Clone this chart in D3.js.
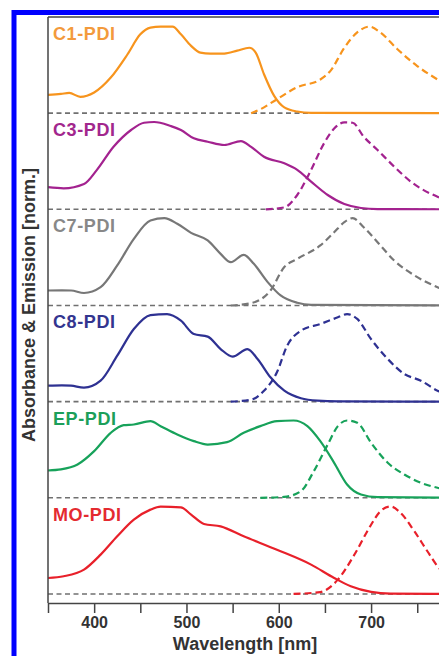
<!DOCTYPE html>
<html>
<head>
<meta charset="utf-8">
<script src="https://d3js.org/d3.v7.min.js"></script>
<style>
	html, body { margin: 0; padding: 0; background: #fff; }
	svg { display: block; font-family: "Liberation Sans", Arial, sans-serif; }
</style>
</head>
<body>
<svg id="chart" width="439" height="656"></svg>
<script>
"use strict";

// samples, top to bottom
var samples = ["C1-PDI", "C3-PDI", "C7-PDI", "C8-PDI", "EP-PDI", "MO-PDI"];

// absorbance spectra [wavelength nm, normalized intensity]
var c1Abs = [[350, 0.19], [364, 0.20], [373, 0.21], [385, 0.17], [400, 0.215], [418, 0.37], [436, 0.61], [450, 0.82],
	[461, 0.89], [472, 0.90], [485, 0.90], [494, 0.82], [505, 0.70], [515, 0.63], [526, 0.62], [541, 0.62],
	[555, 0.65], [568, 0.68], [575, 0.63], [584, 0.405], [595, 0.18], [606, 0.06], [620, 0.017], [635, 0.003], [800, 0]];
var c3Abs = [[350, 0.23], [367, 0.218], [389, 0.263], [403, 0.41], [421, 0.65], [440, 0.825], [454, 0.90], [465, 0.908],
	[483, 0.866], [494, 0.825], [508, 0.738], [523, 0.703], [541, 0.669], [559, 0.71], [570, 0.65], [584, 0.547],
	[606, 0.478], [620, 0.41], [635, 0.288], [653, 0.149], [671, 0.055], [689, 0.014], [707, 0.003], [800, 0]];
var c7Abs = [[350, 0.156], [365, 0.158], [375, 0.156], [389, 0.13], [407, 0.19], [425, 0.416], [443, 0.693], [461, 0.884],
	[476, 0.908], [490, 0.85], [505, 0.755], [523, 0.676], [537, 0.537], [548, 0.45], [562, 0.527], [573, 0.433],
	[588, 0.243], [602, 0.104], [620, 0.028], [635, 0.007], [800, 0]];
var c8Abs = [[350, 0.166], [365, 0.17], [375, 0.166], [389, 0.146], [407, 0.218], [425, 0.478], [443, 0.755], [461, 0.90],
	[479, 0.91], [494, 0.842], [508, 0.703], [523, 0.676], [537, 0.547], [550, 0.468], [566, 0.547], [577, 0.444],
	[591, 0.253], [606, 0.114], [624, 0.035], [642, 0.01], [664, 0.003], [800, 0]];
var epAbs = [[350, 0.284], [364, 0.295], [382, 0.346], [400, 0.485], [418, 0.676], [432, 0.755], [443, 0.762], [461, 0.797],
	[472, 0.745], [490, 0.658], [508, 0.589], [523, 0.554], [544, 0.579], [562, 0.676], [580, 0.745], [598, 0.797],
	[616, 0.804], [631, 0.745], [645, 0.589], [660, 0.364], [674, 0.139], [689, 0.035], [707, 0.007], [800, 0]];
var moAbs = [[350, 0.166], [367, 0.184], [389, 0.253], [407, 0.409], [425, 0.60], [443, 0.773], [461, 0.877], [472, 0.908],
	[494, 0.90], [505, 0.825], [519, 0.728], [537, 0.703], [562, 0.60], [598, 0.46], [635, 0.305], [660, 0.166],
	[678, 0.08], [700, 0.021], [721, 0.003], [800, 0]];

// emission spectra [wavelength nm, normalized intensity]
var c1Em = [[570, 0], [580, 0.04], [598, 0.145], [620, 0.27], [645, 0.35], [656, 0.44], [671, 0.68], [685, 0.84],
	[698, 0.90], [710, 0.84], [728, 0.67], [750, 0.49], [772, 0.35], [790, 0.25], [800, 0.2]];
var c3Em = [[586, 0], [606, 0.02], [620, 0.149], [635, 0.41], [649, 0.686], [660, 0.84], [671, 0.905], [680, 0.90],
	[692, 0.755], [707, 0.617], [725, 0.444], [743, 0.288], [772, 0.13], [790, 0.07], [800, 0.05]];
var c7Em = [[548, 0], [570, 0.024], [591, 0.156], [606, 0.40], [620, 0.485], [645, 0.624], [660, 0.762], [671, 0.866],
	[680, 0.908], [692, 0.814], [707, 0.658], [725, 0.468], [747, 0.312], [772, 0.19], [800, 0.1]];
var c8Em = [[548, 0], [570, 0.02], [584, 0.114], [598, 0.305], [609, 0.58], [624, 0.738], [645, 0.807], [664, 0.877],
	[674, 0.91], [685, 0.86], [700, 0.65], [718, 0.444], [736, 0.288], [754, 0.218], [772, 0.114], [800, 0.05]];
var epEm = [[580, 0], [606, 0.01], [624, 0.069], [638, 0.277], [653, 0.554], [664, 0.745], [674, 0.804], [685, 0.78],
	[700, 0.572], [718, 0.364], [736, 0.243], [754, 0.156], [772, 0.104], [800, 0.06]];
var moEm = [[616, 0], [645, 0.02], [664, 0.149], [682, 0.41], [700, 0.72], [710, 0.86], [721, 0.91], [732, 0.842],
	[747, 0.65], [761, 0.444], [772, 0.288], [785, 0.17], [800, 0.08]];

var absorbance = [c1Abs, c3Abs, c7Abs, c8Abs, epAbs, moAbs];
var emission = [c1Em, c3Em, c7Em, c8Em, epEm, moEm];

// axis ticks
var xTicks = [350, 400, 450, 500, 550, 600, 650, 700, 750, 800];
var xTickLabels = [400, 500, 600, 700];

// styles
var lineColors = ["#f7941d", "#a3228f", "#777777", "#2e3192", "#17a25a", "#e8202a"];
var labelColors = ["#f39a3c", "#a2278d", "#888888", "#33358f", "#1c9f5a", "#e42a30"];

var svg = d3.select("#chart");

// blue frame round the figure
svg.append("rect")
	.attr("x", 14).attr("y", 12.5)
	.attr("width", 460).attr("height", 700)
	.attr("fill", "none")
	.attr("stroke", "#0000ff")
	.attr("stroke-width", 5);

var x = d3.scaleLinear().domain([350, 800]).range([48, 463.4]);
// each sample is stacked one unit above the next
var y = d3.scaleLinear().domain([-0.094, 6]).range([603, 17]);

var line = d3.line()
	.x(function(d) { return x(d[0]); })
	.curve(d3.curveMonotoneX);

// dashed zero lines
svg.append("g").selectAll("line")
	.data(samples)
	.join("line")
	.attr("x1", x(350)).attr("x2", x(800))
	.attr("y1", function(d, i) { return y(5 - i); })
	.attr("y2", function(d, i) { return y(5 - i); })
	.attr("stroke", "#707070")
	.attr("stroke-width", 1.6)
	.attr("stroke-dasharray", "5,3.5");

samples.forEach(function(name, i) {
	var offset = 5 - i;
	var shifted = line.y(function(d) { return y(d[1] + offset); });

	svg.append("path")
		.datum(emission[i])
		.attr("d", shifted)
		.attr("fill", "none")
		.attr("stroke", lineColors[i])
		.attr("stroke-width", 2.2)
		.attr("stroke-dasharray", "7,4");

	svg.append("path")
		.datum(absorbance[i])
		.attr("d", shifted)
		.attr("fill", "none")
		.attr("stroke", lineColors[i])
		.attr("stroke-width", 2.2);

	svg.append("text")
		.attr("x", 53)
		.attr("y", y(offset + 1) + 23)
		.attr("fill", labelColors[i])
		.style("font-size", "18px")
		.style("font-weight", "bold")
		.style("letter-spacing", "0.6px")
		.text(name);
});

// frame: top line and left axis
svg.append("line")
	.attr("x1", 48).attr("x2", 439)
	.attr("y1", 17).attr("y2", 17)
	.attr("stroke", "#444").attr("stroke-width", 1.5);
svg.append("line")
	.attr("x1", 48).attr("x2", 48)
	.attr("y1", 17).attr("y2", 603)
	.attr("stroke", "#444").attr("stroke-width", 1.5);

// bottom axis
var xAxis = d3.axisBottom(x)
	.tickValues(xTicks)
	.tickSize(10)
	.tickSizeOuter(0)
	.tickFormat(function(d) { return xTickLabels.indexOf(d) >= 0 ? d : ""; });

var gx = svg.append("g")
	.attr("transform", "translate(0,603)")
	.call(xAxis);
gx.select(".domain").attr("stroke", "#444").attr("stroke-width", 1.5);
gx.selectAll(".tick line").attr("stroke", "#444").attr("stroke-width", 1.5);
gx.selectAll(".tick text")
	.attr("y", 14)
	.attr("fill", "#333")
	.style("font-size", "16px")
	.style("font-weight", "bold")
	.style("font-family", "'Liberation Sans', Arial, sans-serif");

svg.append("text")
	.attr("x", 245)
	.attr("y", 650)
	.attr("text-anchor", "middle")
	.attr("fill", "#333")
	.style("font-size", "18px")
	.style("font-weight", "bold")
	.text("Wavelength [nm]");

svg.append("text")
	.attr("transform", "translate(35,305) rotate(-90)")
	.attr("text-anchor", "middle")
	.attr("fill", "#333")
	.style("font-size", "18px")
	.style("font-weight", "bold")
	.text("Absorbance & Emission [norm.]");
</script>
</body>
</html>
